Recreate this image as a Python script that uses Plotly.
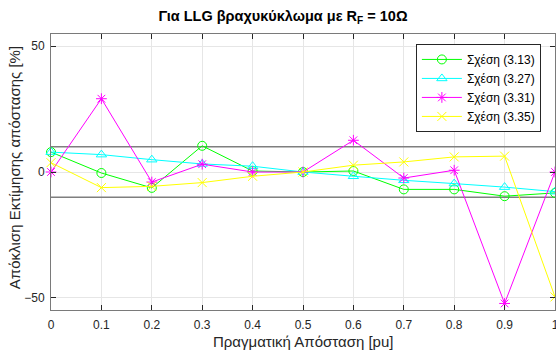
import plotly.graph_objects as go

distance = [0, 0.1, 0.2, 0.3, 0.4, 0.5, 0.6, 0.7, 0.8, 0.9, 1.0]
eq_313 = [7.9, -0.4, -6.3, 10.4, 0.4, 0, 0.4, -6.9, -6.9, -9.6, -8.3]
eq_327 = [7.9, 6.9, 4.9, 3.2, 2.3, 0, -1.7, -3.3, -4.6, -6.0, -7.8]
eq_331 = [0, 29.1, -4.0, 3.1, 0, 0, 12.6, -2.4, 0.7, -52.2, 0]
eq_335 = [3.7, -6.2, -5.7, -4.2, -1.7, 0, 2.7, 4.0, 6.0, 6.3, -49.6]
limits = [10, -10]
series_names = ["Σχέση (3.13)", "Σχέση (3.27)", "Σχέση (3.31)", "Σχέση (3.35)"]
x_ticks = [0, 0.1, 0.2, 0.3, 0.4, 0.5, 0.6, 0.7, 0.8, 0.9, 1]
x_tick_labels = ["0", "0.1", "0.2", "0.3", "0.4", "0.5", "0.6", "0.7", "0.8", "0.9", "1"]
y_ticks = [-50, 0, 50]

fig = go.Figure()

for lim in limits:
    fig.add_trace(go.Scatter(x=[distance[0], distance[-1]], y=[lim, lim], mode="lines",
                             line=dict(color="#7f7f7f", width=1.5), showlegend=False,
                             hoverinfo="skip", cliponaxis=False))

styles = [
    ("#00ff00", "circle-open"),
    ("#00ffff", "triangle-up-open"),
    ("#ff00ff", "asterisk-open"),
    ("#ffff00", "x-thin-open"),
]
for name, ys, (col, sym) in zip(series_names, [eq_313, eq_327, eq_331, eq_335], styles):
    fig.add_trace(go.Scatter(
        x=distance, y=ys, mode="lines+markers", name=name,
        line=dict(color=col, width=1),
        marker=dict(symbol=sym, size=9, color=col, line=dict(color=col, width=1)),
        cliponaxis=False,
    ))

font_family = "Liberation Sans, Arial, sans-serif"
fig.update_layout(
    width=556, height=358,
    margin=dict(l=51, r=1, t=34, b=48, autoexpand=False),
    paper_bgcolor="white", plot_bgcolor="white",
    font=dict(family=font_family, size=12, color="#262626"),
    title=dict(text="<b>Για LLG βραχυκύκλωμα με R<sub>F</sub> = 10Ω</b>",
               x=0.509, xanchor="center", y=0.955, yanchor="middle",
               font=dict(size=14.5, color="black")),
    legend=dict(x=0.972, y=0.964, xanchor="right", yanchor="top",
                bordercolor="#262626", borderwidth=1, bgcolor="white",
                font=dict(size=12, color="black"), tracegroupgap=0,
                itemwidth=40),
    xaxis=dict(range=[0, 1], tickvals=x_ticks, ticktext=x_tick_labels,
               ticks="inside", ticklen=5, tickcolor="#262626", ticklabelstandoff=4,
               ticklabeloverflow="allow",
               showline=True, linecolor="#7a7a7a", linewidth=1, mirror="ticks",
               showgrid=True, gridcolor="#e6e6e6", zeroline=False, automargin=False,
               tickfont=dict(size=12, color="#262626")),
    yaxis=dict(range=[-54.8, 54.8], tickvals=y_ticks,
               ticks="inside", ticklen=5, tickcolor="#262626", ticklabelstandoff=3,
               showline=True, linecolor="#7a7a7a", linewidth=1, mirror="ticks",
               showgrid=True, gridcolor="#e6e6e6", zeroline=False, automargin=False,
               tickfont=dict(size=12, color="#262626")),
    annotations=[
        dict(text="Πραγματική Απόσταση [pu]", xref="paper", yref="paper",
             x=0.5, y=-0.113, xanchor="center", yanchor="middle", showarrow=False,
             font=dict(size=15, color="#262626")),
        dict(text="Απόκλιση Εκτίμησης απόστασης [%]", xref="paper", yref="paper",
             x=-0.0734, y=0.514, xanchor="center", yanchor="middle", showarrow=False,
             textangle=-90, font=dict(size=15, color="#262626")),
    ],
)

# remove the default 8px page margin so the figure fills the 556x358 window exactly
fig.write_html("out.html", config={"displayModeBar": False},
               post_script="document.body.style.margin='0';")
